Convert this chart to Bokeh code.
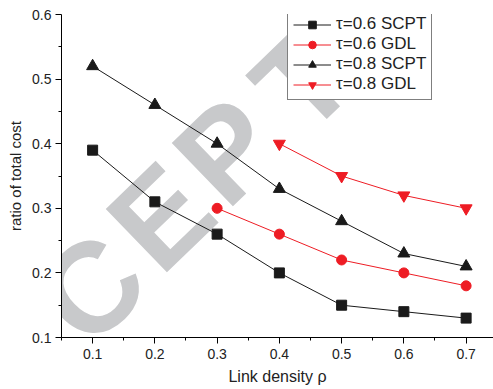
from bokeh.plotting import figure
from bokeh.models import Legend, LegendItem, Label, FixedTicker, Range1d
from bokeh.embed import file_html
from bokeh.resources import INLINE
import math

# data
rho = [0.1, 0.2, 0.3, 0.4, 0.5, 0.6, 0.7]
scpt_06 = [0.39, 0.31, 0.26, 0.20, 0.15, 0.14, 0.13]
rho_gdl06 = [0.3, 0.4, 0.5, 0.6, 0.7]
gdl_06 = [0.30, 0.26, 0.22, 0.20, 0.18]
scpt_08 = [0.52, 0.46, 0.40, 0.33, 0.28, 0.23, 0.21]
rho_gdl08 = [0.4, 0.5, 0.6, 0.7]
gdl_08 = [0.40, 0.35, 0.32, 0.30]
x_ticks = [0.1, 0.2, 0.3, 0.4, 0.5, 0.6, 0.7]
y_ticks = [0.1, 0.2, 0.3, 0.4, 0.5, 0.6]
labels = ["τ=0.6 SCPT", "τ=0.6 GDL", "τ=0.8 SCPT", "τ=0.8 GDL"]

FONT = "Liberation Sans"
BLACK = "#1a1a1a"
RED = "#ee1c24"

p = figure(width=493, height=389, output_backend="svg", toolbar_location=None,
           x_range=Range1d(0.05, 0.744), y_range=Range1d(0.1, 0.6),
           min_border_left=61, min_border_right=0, min_border_top=14, min_border_bottom=52)
p.outline_line_color = None
p.grid.visible = False
p.background_fill_color = "white"
p.border_fill_color = "white"

# watermark
wm_letters = ["C", "E", "P", "T"]
wm_pos = [(90, 288), (160, 216), (226, 150), (302, 80)]
for ch, (px, py) in zip(wm_letters, wm_pos):
    p.add_layout(Label(x=px - 61, y=337 - py, x_units="screen", y_units="screen",
                       text=ch, angle=math.radians(44), text_align="center",
                       text_baseline="middle", text_font=FONT, text_font_style="bold",
                       text_font_size="128px", text_color="#c8c9cb", level="underlay"))

r1l = p.line(rho, scpt_06, line_color=BLACK, line_width=1)
r1m = p.scatter(rho, scpt_06, marker="square", size=10, fill_color=BLACK, line_color=BLACK)
r2l = p.line(rho_gdl06, gdl_06, line_color=RED, line_width=1)
r2m = p.scatter(rho_gdl06, gdl_06, marker="circle", size=10, fill_color=RED, line_color=RED)
r3l = p.line(rho, scpt_08, line_color=BLACK, line_width=1)
r3m = p.scatter(rho, scpt_08, marker="triangle", size=12, fill_color=BLACK, line_color=BLACK)
r4l = p.line(rho_gdl08, gdl_08, line_color=RED, line_width=1)
r4m = p.scatter(rho_gdl08, gdl_08, marker="inverted_triangle", size=12, fill_color=RED, line_color=RED)

for ax in (p.xaxis[0], p.yaxis[0]):
    ax.axis_line_color = "black"
    ax.major_tick_line_color = "black"
    ax.minor_tick_line_color = "black"
    ax.major_tick_out = 6
    ax.major_tick_in = 0
    ax.minor_tick_out = 3
    ax.minor_tick_in = 0
    ax.major_label_text_font = FONT
    ax.major_label_text_font_size = "14px"
    ax.major_label_text_color = "#222222"
    ax.axis_label_text_font = FONT
    ax.axis_label_text_font_style = "normal"
    ax.axis_label_text_color = "#222222"

p.xaxis.ticker = FixedTicker(ticks=x_ticks, minor_ticks=[0.05, 0.15, 0.25, 0.35, 0.45, 0.55, 0.65])
p.yaxis.ticker = FixedTicker(ticks=y_ticks, minor_ticks=[0.15, 0.25, 0.35, 0.45, 0.55])
p.xaxis.axis_label = "Link density ρ"
p.yaxis.axis_label = "ratio of total cost"
p.xaxis.axis_label_text_font_size = "16px"
p.yaxis.axis_label_text_font_size = "15px"
p.xaxis.major_label_standoff = 5
p.yaxis.major_label_standoff = 4
p.xaxis.axis_label_standoff = 6
p.yaxis.axis_label_standoff = 5

items = [LegendItem(label=labels[0], renderers=[r1l, r1m]),
         LegendItem(label=labels[1], renderers=[r2l, r2m]),
         LegendItem(label=labels[2], renderers=[r3l, r3m]),
         LegendItem(label=labels[3], renderers=[r4l, r4m])]
legend = Legend(items=items, location=(226, 237), label_text_font=FONT,
                label_text_font_size="17px", label_text_color="#222222",
                glyph_width=38, glyph_height=19, label_height=19, spacing=0,
                padding=5, label_standoff=5, margin=0,
                border_line_color="black", border_line_width=1,
                background_fill_color="white", background_fill_alpha=1)
p.add_layout(legend)

open("out.html", "w").write(file_html(p, INLINE))
